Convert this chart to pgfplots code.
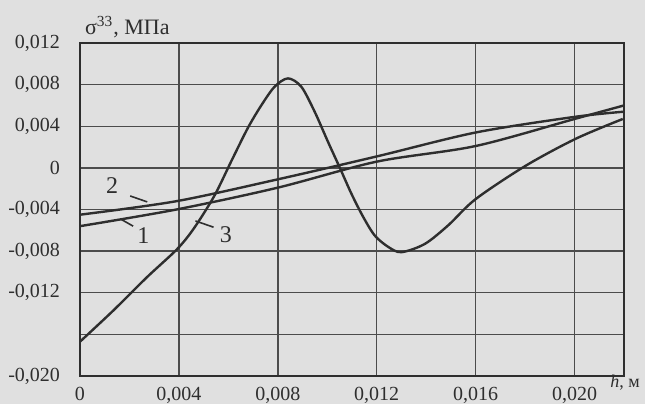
\documentclass[border=0pt]{standalone}
\usepackage{fontspec}
\setmainfont{Liberation Serif}
\usepackage{pgfplots}
\pgfplotsset{compat=1.18}
\definecolor{bg}{gray}{0.88}
\definecolor{ink}{gray}{0.18}
\definecolor{gridc}{gray}{0.30}
\begin{document}
\begin{tikzpicture}
\fill[bg] (-40pt,-14pt) rectangle (282.5pt,188pt);
\begin{axis}[
  at={(0pt,0pt)}, anchor=south west,
  scale only axis, width=272pt, height=166.5pt,
  xmin=0, xmax=0.022, ymin=-0.020, ymax=0.012,
  xtick={0,0.004,0.008,0.012,0.016,0.020},
  xticklabels={0,{0,004},{0,008},{0,012},{0,016},{0,020}},
  ytick={-0.020,-0.016,-0.012,-0.008,-0.004,0,0.004,0.008,0.012},
  yticklabels={{-0,020},{},{-0,012},{-0,008},{-0,004},0,{0,004},{0,008},{0,012}},
  scaled ticks=false,
  major tick length=0pt,
  grid=major,
  grid style={gridc, line width=0.7pt},
  axis line style={ink, line width=1pt},
  tick label style={font=\fontsize{10}{12}\selectfont, text=ink},
  xticklabel style={yshift=-2pt},
  yticklabel style={xshift=-6.5pt},
  clip=false,
]
% curve 1
\addplot[ink, line width=1.2pt, smooth] coordinates {
(0,-0.0056) (0.0039,-0.0040) (0.008,-0.0019) (0.012,0.0006) (0.016,0.0021) (0.020,0.0047) (0.022,0.0060)};
% curve 2
\addplot[ink, line width=1.2pt, smooth] coordinates {
(0,-0.0045) (0.0039,-0.0032) (0.008,-0.0011) (0.012,0.0011) (0.016,0.0034) (0.020,0.0049) (0.022,0.0054)};
% curve 3
\addplot[ink, line width=1.2pt, smooth, tension=0.5] coordinates {
(0,-0.0167) (0.00135,-0.0137) (0.00271,-0.0105) (0.00393,-0.0078) (0.00461,-0.0058) (0.00543,-0.0027) (0.00611,0.0006) (0.00678,0.0038) (0.00733,0.0060) (0.00787,0.0078) (0.00841,0.0086) (0.00895,0.0078) (0.00949,0.0054) (0.01003,0.0025) (0.01051,0.0000) (0.01098,-0.0025) (0.01145,-0.0047) (0.01192,-0.0065) (0.01247,-0.0076) (0.0130,-0.0081) (0.01395,-0.0073) (0.0149,-0.0055) (0.0160,-0.0030) (0.01802,0.0002) (0.02005,0.0028) (0.02195,0.0047)};
\draw[ink, line width=0.8pt] (axis cs:0.00203,-0.0027) -- (axis cs:0.00272,-0.00327);
\draw[ink, line width=0.8pt] (axis cs:0.00163,-0.0049) -- (axis cs:0.00215,-0.0056);
\draw[ink, line width=0.8pt] (axis cs:0.00467,-0.0051) -- (axis cs:0.0054,-0.0057);
\node[font=\fontsize{12}{14}\selectfont, text=ink] at (axis cs:0.0013,-0.0017) {2};
\node[font=\fontsize{12}{14}\selectfont, text=ink] at (axis cs:0.00256,-0.0065) {1};
\node[font=\fontsize{12}{14}\selectfont, text=ink] at (axis cs:0.0059,-0.0064) {3};
\end{axis}
\node[anchor=base west, font=\fontsize{11}{13}\selectfont, text=ink] at (-1pt,171pt) {σ\textsuperscript{33}, МПа};
\node[anchor=west, inner sep=0pt, font=\fontsize{9}{11}\selectfont, text=ink] at (265pt,-3.5pt) {\textit{h}, м};
\pgfresetboundingbox
\path[use as bounding box] (-40pt,-14pt) rectangle (282.5pt,188pt);
\end{tikzpicture}
\end{document}
